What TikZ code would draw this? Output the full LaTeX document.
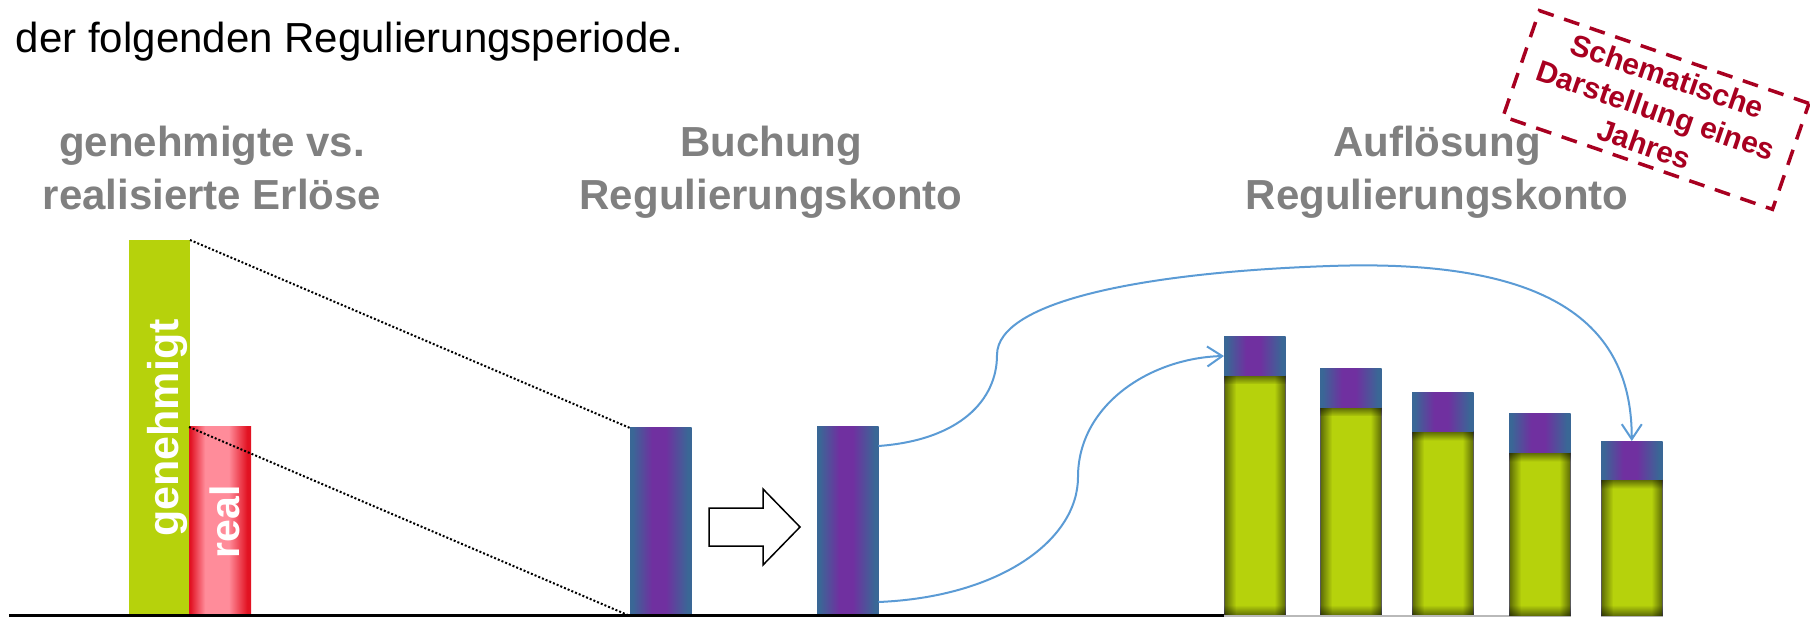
\documentclass[tikz,border=0pt]{standalone}
\usepackage{fontspec}
\setmainfont{Liberation Sans}
\usetikzlibrary{arrows.meta,fadings,calc}
\definecolor{gr}{RGB}{182,210,12}
\definecolor{bblue}{RGB}{58,103,150}
\definecolor{bpurple}{RGB}{112,48,160}
\definecolor{rred}{RGB}{226,18,34}
\definecolor{rpink}{RGB}{255,140,154}
\definecolor{hgray}{RGB}{128,128,128}
\definecolor{stampred}{RGB}{168,0,32}
\definecolor{lblue}{RGB}{91,155,213}
\pgfdeclarehorizontalshading{bpshade}{100bp}{color(0bp)=(bblue); color(27bp)=(bblue); color(43bp)=(bpurple); color(54bp)=(bpurple); color(72bp)=(bblue); color(100bp)=(bblue)}
\pgfdeclarehorizontalshading{rpshade}{100bp}{color(0bp)=(rred); color(26bp)=(rred); color(38bp)=(rpink); color(57bp)=(rpink); color(72bp)=(rred); color(100bp)=(rred)}
\tikzfading[name=fadeR, left color=transparent!0, right color=transparent!100]
\tikzfading[name=fadeL, left color=transparent!100, right color=transparent!0]
\tikzfading[name=fadeD, top color=transparent!0, bottom color=transparent!100]
\tikzfading[name=fadeU, top color=transparent!100, bottom color=transparent!0]
\begin{document}
\begin{tikzpicture}[x=1pt,y=-1pt,
  every node/.style={inner sep=0pt, outer sep=0pt},
  head/.style={font=\fontsize{42}{50}\selectfont\bfseries, text=hgray, anchor=base},
  bpbar/.style={shade, shading=bpshade, anchor=north west, minimum width=61.5pt},
  greenbar/.style={fill=gr, draw=gray!60, line width=0.8pt, anchor=north west, minimum width=61.5pt},
  barlabel/.style={text=white, font=\fontsize{43}{50}\selectfont\bfseries, rotate=90},
  dotline/.style={line width=2pt, dash pattern=on 2pt off 2pt},
  curve/.style={lblue, line width=2pt, -{Straight Barb[length=15pt,width=20pt]}},
  shadow/.style={black, fill opacity=0.5}]
\useasboundingbox (0,0) rectangle (1810,617);

% intro text
\node[anchor=base west, font=\fontsize{42}{50}\selectfont] (intro) at (16,53) {der folgenden Regulierungsperiode.};

% headings
\node[head] (h1a) at (212,157) {genehmigte vs.};
\node[head] (h1b) at (212,210) {realisierte Erlöse};
\node[head] (h2a) at (771,157) {Buchung};
\node[head] (h2b) at (771,210) {Regulierungskonto};
\node[head] (h3a) at (1437,157) {Auflösung};
\node[head] (h3b) at (1437,210) {Regulierungskonto};

% left chart
\node[fill=gr, anchor=north west, minimum width=61pt, minimum height=376pt] (gen) at (129,240) {};
\node[shade, shading=rpshade, anchor=north west, minimum width=62pt, minimum height=189pt] (real) at (189,427) {};
\node[barlabel] (tgen) at (167,428) {genehmigt};
\node[barlabel, font=\fontsize{41}{48}\selectfont\bfseries] (treal) at (225,522) {real};

% middle bars
\node[bpbar, minimum height=188pt] (mA) at (630,428) {};
\node[bpbar, minimum height=189pt] (mB) at (817,427) {};

\draw[dotline] (gen.north east) -- (mA.north west);
\draw[dotline] (real.north west) -- (mA.south west);

% block arrow
\draw[line width=1.5pt, fill=white, line join=miter] (709,508) -- (763,508) -- (763,489) -- (800,527) -- (763,565) -- (763,546) -- (709,546) -- cycle;

% resolution bars
\foreach \i/\x/\t in {1/1224/337,2/1320/369,3/1412/393,4/1509/414,5/1601/441}{
  \pgfmathsetmacro\gt{\t+38.5}
  \pgfmathsetmacro\gh{616-\gt}
  \node[greenbar, minimum height=\gh pt] (res\i) at (\x,\gt) {};
  \fill[shadow, path fading=fadeR] (res\i.north west) rectangle ($(res\i.south west)+(12,0)$);
  \fill[shadow, path fading=fadeL] ($(res\i.north east)+(-11,0)$) rectangle (res\i.south east);
  \fill[shadow, path fading=fadeD] (res\i.north west) rectangle ($(res\i.north east)+(0,9)$);
  \fill[shadow, path fading=fadeU] ($(res\i.south west)+(0,-11)$) rectangle (res\i.south east);
  \node[bpbar, minimum height=38.5pt] (cap\i) at (\x,\t) {};
}

% baseline
\coordinate (b0) at (9,615);
\draw[gray!55, line width=1.2pt] (res1.south west) -- (res4.south west);
\draw[line width=3pt] (b0) -- ($(res1.south west)+(0,-1)$);

% curves
\coordinate (s1) at ($(mB.north east)+(0,19)$);
\coordinate (s2) at ($(mB.south east)+(0,-14)$);
\coordinate (e2) at ($(cap1.north west)+(0,19)$);
\draw[curve] (s1) .. controls (960,440) and (997,400) .. (997,355) .. controls (997,300) and (1150,272) .. (1330,266) .. controls (1560,258) and (1632,330) .. (cap5.north);
\draw[curve] (s2) .. controls (1000,597) and (1078,540) .. (1078,477) .. controls (1078,405) and (1150,358) .. (e2);

% stamp
\node[draw=stampred, line width=3.5pt, dash pattern=on 16pt off 11pt, rotate=-19,
      minimum width=285pt, minimum height=112pt, text=stampred,
      font=\fontsize{30}{36}\selectfont\bfseries, align=center] (stamp) at (1656,110)
      {Schematische\\Darstellung eines\\Jahres};
\end{tikzpicture}
\end{document}
